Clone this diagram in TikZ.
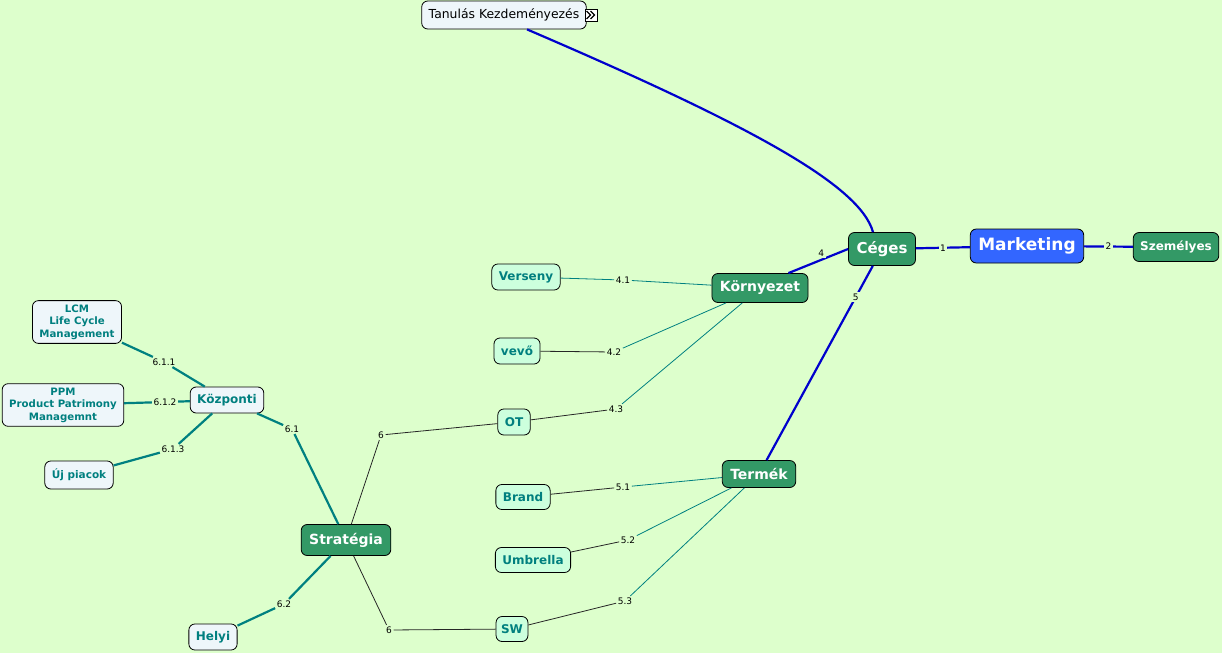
\documentclass[tikz,border=0pt]{standalone}
\usepackage{fontspec}
\setmainfont{DejaVu Sans}
\definecolor{bg}{HTML}{DDFFCC}
\definecolor{mblue}{HTML}{0000CC}
\definecolor{mgreen}{HTML}{339966}
\definecolor{mroot}{HTML}{3366FF}
\definecolor{mint}{HTML}{CCFFDD}
\definecolor{pale}{HTML}{EEF6FA}
\definecolor{tealtext}{HTML}{007F7F}
\definecolor{tealline}{HTML}{008080}
\begin{document}
\begin{tikzpicture}
      [x=1pt,y=-1pt,
       hub/.style={draw,line width=0.8pt,rounded corners=6pt,fill=mgreen,text=white,font=\bfseries\fontsize{14}{16}\selectfont,inner xsep=8pt,minimum height=29pt},
       leaf/.style={draw,line width=0.8pt,rounded corners=6pt,fill=mint,text=tealtext,font=\bfseries\fontsize{12}{14}\selectfont,inner xsep=7pt,minimum height=26pt},
       paleleaf/.style={leaf,fill=pale},
       multileaf/.style={paleleaf,align=center,font=\bfseries\fontsize{10.2}{12.5}\selectfont,inner ysep=4pt},
       lbl/.style={fill=bg,inner sep=1.5pt,font=\fontsize{9}{10}\selectfont},
       bline/.style={draw=mblue,line width=2.2pt},
       tline/.style={draw=tealline,line width=2.2pt},
       pline/.style={draw=tealline,line width=0.8pt},
       kline/.style={draw=black!85,line width=0.8pt}]
      \useasboundingbox[fill=bg] (0,0) rectangle (1222,653);
      % centre
      \node[hub,fill=mroot,font=\bfseries\fontsize{17}{19}\selectfont,minimum height=34pt](marketing) at (1027,246) {Marketing};
      \node[hub,font=\bfseries\fontsize{15}{17}\selectfont,minimum height=33pt](ceges) at (882,249) {Céges};
      \node[hub,font=\bfseries\fontsize{12}{14}\selectfont,inner xsep=7pt](szemelyes) at (1176,247) {Személyes};
      \node[draw,line width=0.8pt,rounded corners=6pt,fill=pale,font=\fontsize{12.4}{14}\selectfont,inner xsep=7pt,minimum height=28pt](tanulas) at (504,15) {Tanulás Kezdeményezés};
      \node[draw,line width=0.8pt,fill=white,inner sep=0pt,minimum size=12pt](tkicon) at (591,15) {};
      \draw[line width=1.3pt]([shift={(-4.5,-4)}]tkicon.center) -- ([shift={(-0.5,0)}]tkicon.center) -- ([shift={(-4.5,4)}]tkicon.center);
      \draw[line width=1.3pt]([shift={(-0.5,-4)}]tkicon.center) -- ([shift={(3.5,0)}]tkicon.center) -- ([shift={(-0.5,4)}]tkicon.center);
      % second level
      \node[hub](kornyezet) at (760,288) {Környezet};
      \node[hub,minimum height=27pt](termek) at (759,474) {Termék};
      \node[hub,minimum height=31pt](strategia) at (346,540) {Stratégia};
      % leaves
      \node[leaf](verseny) at (526,277) {Verseny};
      \node[leaf](vevo) at (517,351) {vevő};
      \node[leaf](ot) at (514,422) {OT};
      \node[leaf,minimum height=25pt](brand) at (523,497) {Brand};
      \node[leaf,minimum height=25pt](umbrella) at (533,560) {Umbrella};
      \node[leaf,minimum height=25pt,inner xsep=5pt](sw) at (512,629) {SW};
      \node[paleleaf](kozponti) at (227,400) {Központi};
      \node[paleleaf](helyi) at (213,637) {Helyi};
      \node[paleleaf,font=\bfseries\fontsize{10.5}{12}\selectfont,minimum height=28pt](ujpiacok) at (79,475) {Új piacok};
      \node[multileaf](lcm) at (77,322) {LCM\\Life Cycle\\Management};
      \node[multileaf](ppm) at (63,405) {PPM\\Product Patrimony\\Managemnt};
      % edge labels
      \node[lbl](l41) at (623,280) {4.1};
      \node[lbl](l42) at (614,352) {4.2};
      \node[lbl](l43) at (616,409) {4.3};
      \node[lbl](l51) at (623,487) {5.1};
      \node[lbl](l52) at (628,540) {5.2};
      \node[lbl](l53) at (625,601) {5.3};
      \node[lbl](l6a) at (381,435) {6};
      \node[lbl](l6b) at (389,630) {6};
      \node[lbl](l61) at (292,429) {6.1};
      \node[lbl](l62) at (284,604) {6.2};
      \node[lbl](l611) at (164,362) {6.1.1};
      \node[lbl](l612) at (165,402) {6.1.2};
      \node[lbl](l613) at (173,449) {6.1.3};
      % main branches
      \draw[bline](ceges) --node[lbl]{1} (marketing);
      \draw[bline](marketing) --node[lbl]{2} (szemelyes);
      \draw[bline](ceges.west) --node[lbl,above=1pt,pos=0.45]{4} ([xshift=-20pt]kornyezet.north east);
      \draw[bline](ceges) --node[lbl,pos=0.16]{5} (termek);
      \draw[bline]([xshift=-9pt]ceges.north) .. controls (860,185) and (750,125) .. ([xshift=23pt]tanulas.south);
      % Környezet
      \draw[pline](verseny) -- (l41);
      \draw[pline](l41) -- (kornyezet);
      \draw[kline](vevo) -- (l42);
      \draw[pline](l42) -- (kornyezet);
      \draw[kline](ot) -- (l43);
      \draw[pline](l43) -- (kornyezet);
      % Termék
      \draw[kline](brand) -- (l51);
      \draw[pline](l51) -- (termek);
      \draw[kline](umbrella) -- (l52);
      \draw[pline](l52) -- (termek);
      \draw[kline](sw) -- (l53);
      \draw[pline](l53) -- (termek);
      % Stratégia
      \draw[kline](strategia) -- (l6a);
      \draw[kline](l6a) -- (ot);
      \draw[kline](strategia) -- (l6b);
      \draw[kline](l6b) -- (sw);
      \draw[tline](strategia) -- (l61);
      \draw[tline](l61) -- (kozponti);
      \draw[tline](strategia) -- (l62);
      \draw[tline](l62) -- (helyi);
      \draw[tline](kozponti) -- (l611);
      \draw[tline](l611) -- (lcm);
      \draw[tline](kozponti) -- (l612);
      \draw[tline](l612) -- (ppm);
      \draw[tline](kozponti) -- (l613);
      \draw[tline](l613) -- (ujpiacok);
  \end{tikzpicture}
\end{document}
